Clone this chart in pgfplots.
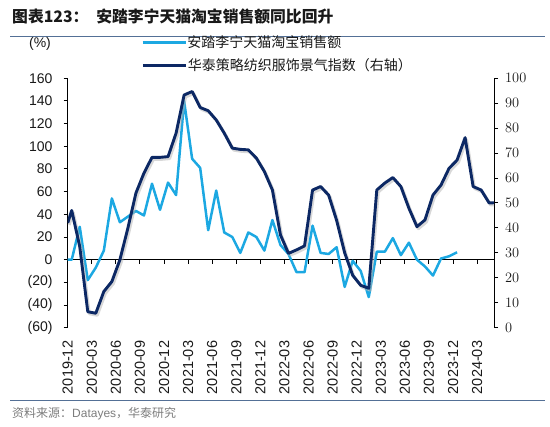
\documentclass[border=0pt]{standalone}
\usepackage{pgfplots}
\pgfplotsset{compat=1.18}
\usepackage{pgfplotstable}
\usepackage{fontspec}
\setmainfont{Liberation Sans}
\newfontfamily\cjk{Noto Sans CJK SC}
\definecolor{lblue}{RGB}{28,168,226}
\definecolor{navy}{RGB}{12,40,100}
\definecolor{rulec}{RGB}{84,112,150}
\definecolor{srcgray}{RGB}{125,125,125}
\definecolor{txt}{RGB}{25,25,25}

\pgfplotstableread{
x y
0 0
0.5 0
1.5 29
2.5 -18
3.5 -7
4.5 8
5.5 54
6.5 33
7.5 38
8.5 43
9.5 39
10.5 67
11.5 44
12.5 68
13.5 57
14.5 140
15.5 89
16.5 81
17.5 26
18.5 61
19.5 24
20.5 20
21.5 6
22.5 24
23.5 20
24.5 8
25.5 35
26.5 13
27.5 5
28.5 -11
29.5 -11
30.5 30
31.5 6
32.5 5
33.5 11
34.5 -24
35.5 -1
36.5 -10
37.5 -33
38.5 7
39.5 7
40.5 19
41.5 4
42.5 15
43.5 0
44.5 -6
45.5 -14
46.5 1
47.5 3
48.5 6.5
}\lbdata

\pgfplotstableread{
x y
0 42
0.5 47
1.5 32.5
2.5 6.4
3.5 5.8
4.5 14.5
5.5 18.5
6.5 27.2
7.5 40
8.5 54
9.5 62
10.5 68.3
11.5 68.3
12.5 68.6
13.5 78
14.5 93.3
15.5 94.7
16.5 88.3
17.5 87
18.5 83.3
19.5 78
20.5 72
21.5 71.5
22.5 71.3
23.5 68
24.5 62.6
25.5 55.2
26.5 37.2
27.5 29.8
28.5 31.2
29.5 32.8
30.5 55.2
31.5 56.6
32.5 53.2
33.5 43
34.5 30
35.5 21
36.5 17
37.5 15.8
38.5 55.2
39.5 58
40.5 60.2
41.5 56.6
42.5 47.9
43.5 40.5
44.5 43.2
45.5 53.2
46.5 57.2
47.5 63.9
48.5 67.2
49.5 76.2
50.5 56.6
51.5 55.2
52.5 50
53.1 50.1
}\navydata

\begin{document}
\begin{tikzpicture}[x=1pt,y=1pt]
\path[use as bounding box] (0,0) rectangle (550,-427);
\node[anchor=west, inner sep=0pt, text=txt] at (12,-16.5) {\cjk\bfseries\fontsize{15.8}{18}\selectfont 图表123：\hspace{0.5em}安踏李宁天猫淘宝销售额同比回升};
\draw[rulec, line width=1pt] (10,-37) -- (545,-37);
\draw[rulec, line width=1pt] (10,-401) -- (545,-401);
\node[anchor=west, inner sep=0pt, text=srcgray] at (12,-414) {\cjk\fontsize{12}{14}\selectfont 资料来源：{\rmfamily Datayes}，华泰研究};
\node[text=txt, inner sep=0pt] at (40,-44) {\fontsize{14}{16}\selectfont (\%)};

\pgfplotsset{
  myaxis/.style={
    at={(67.7pt,-327.7pt)}, anchor=south west,
    scale only axis, width=426.3pt, height=249.4pt,
    xmin=0, xmax=53.1,
    tick align=outside, major tick length=4pt,
    every tick/.style={black, line width=1pt},
    axis line style={black, line width=1pt},
    tick label style={text=txt, font=\fontsize{14}{16}\selectfont},
    legend image code/.code={\draw[##1] (0pt,0pt) -- (43.5pt,0pt);},
    legend style={draw=none, fill=none, inner sep=0pt, outer sep=0pt, anchor=west,
      font=\cjk\fontsize{14}{16}\selectfont, text=txt,
      nodes={inner sep=0pt},
      /tikz/every even column/.append style={column sep=5pt}},
  }
}

\begin{axis}[myaxis,
  ymin=-60, ymax=160,
  axis y line*=left, axis x line*=bottom,
  x axis line style={draw=none},
  ytick={-60,-40,...,160},
  yticklabels={(60),(40),(20),0,20,40,60,80,100,120,140,160},
  yticklabel style={inner sep=0pt},
  yticklabel shift=11pt,
  xtick={0,3,...,51},
  xticklabels={2019-12,2020-03,2020-06,2020-09,2020-12,2021-03,2021-06,2021-09,2021-12,2022-03,2022-06,2022-09,2022-12,2023-03,2023-06,2023-09,2023-12,2024-03},
  x tick style={draw=none},
  xticklabel style={rotate=90, anchor=east, inner sep=0pt, font=\fontsize{14.5}{16}\selectfont},
  xticklabel shift=9pt,
  legend style={at={(0.1731,1.1443)}},
]
\draw[black, line width=1pt] (axis cs:0,0) -- (axis cs:53.1,0);
\pgfplotsinvokeforeach{0,3,...,51}{\draw[black, line width=1pt] (axis cs:#1,0) -- ++(0pt,-4pt);}
\addplot[lblue, line width=2.5pt, line join=round] table[x=x,y=y] {\lbdata};
\addlegendentry{安踏李宁天猫淘宝销售额}
\end{axis}

\begin{axis}[myaxis,
  ymin=0, ymax=100,
  axis y line*=right, axis x line=none,
  ytick={0,10,...,100},
  yticklabel style={inner sep=0pt, anchor=west},
  yticklabel shift=7pt,
  legend style={at={(0.1731,1.0505)}},
]
\addplot[black!30, line width=3pt, opacity=0.5, line join=round, xshift=1.5pt, yshift=-2pt, forget plot] table[x=x,y=y] {\navydata};
\addplot[navy, line width=2.9pt, line join=round] table[x=x,y=y] {\navydata};
\addlegendentry{华泰策略纺织服饰景气指数（右轴）}
\end{axis}
\end{tikzpicture}
\end{document}
